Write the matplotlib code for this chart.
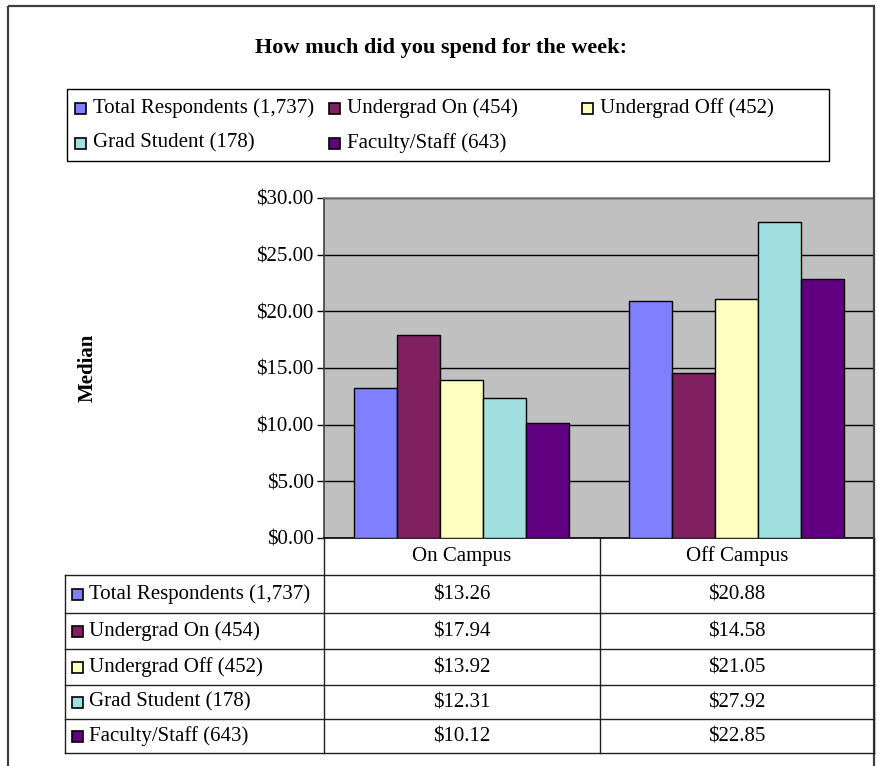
import matplotlib
matplotlib.use("Agg")
import matplotlib.pyplot as plt
from matplotlib.patches import Rectangle
import numpy as np

# Data
categories = ['On Campus', 'Off Campus']
series_labels = ['Total Respondents (1,737)', 'Undergrad On (454)', 'Undergrad Off (452)',
                 'Grad Student (178)', 'Faculty/Staff (643)']
total_respondents = [13.26, 20.88]
undergrad_on = [17.94, 14.58]
undergrad_off = [13.92, 21.05]
grad_student = [12.31, 27.92]
faculty_staff = [10.12, 22.85]
yticks = [0, 5, 10, 15, 20, 25, 30]

series_values = [total_respondents, undergrad_on, undergrad_off, grad_student, faculty_staff]
colors = ['#8080FF', '#802060', '#FFFFC0', '#A0E0E0', '#600080']

W, H = 877, 766
plt.rcParams['font.family'] = ['Liberation Serif', 'DejaVu Serif']

fig = plt.figure(figsize=(W / 100, H / 100), dpi=100)

def fx(x):
    return x / W

def fy(y):
    return 1 - y / H

# plot area (pixel box 324..874 x 198..538)
left, right, top, bottom = 324, 874, 198, 538
ax = fig.add_axes([fx(left), fy(bottom), (right - left) / W, (bottom - top) / H])
ax.set_facecolor('#C0C0C0')

bar_w = 0.156
x = np.arange(len(categories)) + 0.5
for i, (vals, col) in enumerate(zip(series_values, colors)):
    ax.bar(x + (i - 2) * bar_w, vals, width=bar_w, color=col,
           edgecolor='black', linewidth=1, zorder=3)

ax.set_xlim(0, len(categories))
ax.set_ylim(0, 30)
ax.set_yticks(yticks)
ax.set_yticklabels(['${:.2f}'.format(v) for v in yticks], fontsize=15)
ax.set_xticks([])
ax.tick_params(axis='y', direction='out', length=5, width=1, pad=2.5, colors='black')
ax.grid(axis='y', color='black', linewidth=1, zorder=1)
ax.set_axisbelow(True)
ax.spines['left'].set_color('#404040')
ax.spines['bottom'].set_color('black')
ax.spines['top'].set_color('#808080')
ax.spines['right'].set_color('#808080')
for s in ax.spines.values():
    s.set_linewidth(1.2)

# overlay in pixel coordinates for title, legend and data table
ov = fig.add_axes([0, 0, 1, 1])
ov.set_xlim(0, W)
ov.set_ylim(H, 0)
ov.axis('off')

# outer chart border
ov.add_patch(Rectangle((8, 6), 866, 800, fill=False, edgecolor='#404040', linewidth=1.6))

ov.text(441, 48, 'How much did you spend for the week:', fontsize=16, fontweight='bold',
        ha='center', va='center')

ov.text(88, 368, 'Median', fontsize=15, fontweight='bold', rotation=90,
        ha='center', va='center')

# legend
ov.add_patch(Rectangle((67, 89), 762, 72, fill=False, edgecolor='black', linewidth=1))
leg_pos = [(75, 108), (329, 108), (582, 108), (75, 143), (329, 143)]
for (lx, ly), lab, col in zip(leg_pos, series_labels, colors):
    ov.add_patch(Rectangle((lx, ly - 5.5), 11, 11, facecolor=col, edgecolor='black', linewidth=1.2))
    ov.text(lx + 18, ly, lab, fontsize=15, ha='left', va='center')

# data table
col_x = [65, left, 600, right]
row_y = [bottom, 575, 613, 649, 685, 719, 753]
lc = '#202020'
for y in row_y[1:]:
    ov.plot([col_x[0], col_x[-1]], [y, y], color=lc, linewidth=1)
ov.plot([col_x[0], col_x[0]], [row_y[1], row_y[-1]], color=lc, linewidth=1)
for cx in col_x[1:]:
    ov.plot([cx, cx], [row_y[0], row_y[-1]], color=lc, linewidth=1)

for j, cat in enumerate(categories):
    ov.text((col_x[j + 1] + col_x[j + 2]) / 2, (row_y[0] + row_y[1]) / 2, cat,
            fontsize=15, ha='center', va='center')

for i, (lab, vals, col) in enumerate(zip(series_labels, series_values, colors)):
    cy = (row_y[i + 1] + row_y[i + 2]) / 2
    ov.add_patch(Rectangle((72, cy - 5.5), 11, 11, facecolor=col, edgecolor='black', linewidth=1.2))
    ov.text(89, cy, lab, fontsize=15, ha='left', va='center')
    for j, v in enumerate(vals):
        ov.text((col_x[j + 1] + col_x[j + 2]) / 2, cy + 1, '${:.2f}'.format(v),
                fontsize=15, ha='center', va='center')

fig.savefig('out.png', dpi=100)
